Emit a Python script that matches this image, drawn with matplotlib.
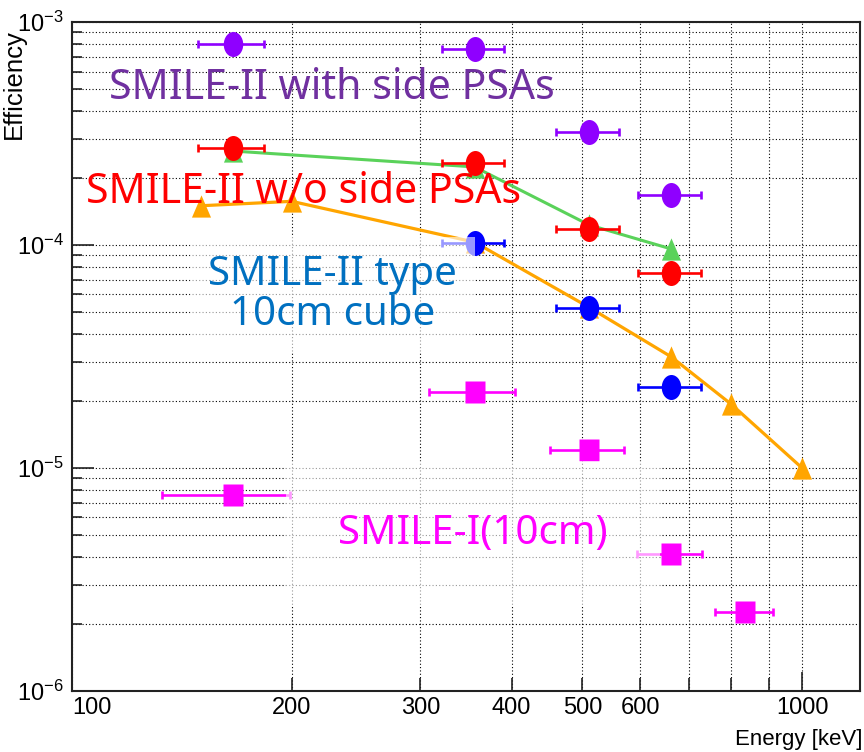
import matplotlib
matplotlib.use("Agg")
import matplotlib.pyplot as plt
from matplotlib.path import Path
from matplotlib.ticker import FixedLocator, FixedFormatter, NullFormatter

plt.rcParams['font.family'] = ['Liberation Sans', 'DejaVu Sans']
plt.rcParams['mathtext.fontset'] = 'custom'
plt.rcParams['mathtext.rm'] = 'Liberation Sans'
plt.rcParams['mathtext.it'] = 'Liberation Sans:italic'

# ---- measured efficiencies (energies in keV) ----
e_meas = [166, 356, 511, 662]
xerr_meas = [17, 35, 51, 66]
eff_with_psa = [8.0e-4, 7.6e-4, 3.2e-4, 1.67e-4]
eff_without_psa = [2.72e-4, 2.33e-4, 1.18e-4, 7.5e-5]

e_cube = [356, 511, 662]
xerr_cube = [35, 51, 66]
eff_cube = [1.02e-4, 5.2e-5, 2.32e-5]

e_smile1 = [166, 356, 511, 662, 835]
xerr_smile1 = [33, 48, 60, 67, 76]
eff_smile1 = [7.6e-6, 2.2e-5, 1.2e-5, 4.1e-6, 2.25e-6]

# ---- simulated efficiencies ----
e_sim_psa = [166, 356, 511, 662]
eff_sim_psa = [2.64e-4, 2.24e-4, 1.23e-4, 9.6e-5]

e_sim_cube = [150, 200, 356, 511, 662, 800, 1000]
eff_sim_cube = [1.5e-4, 1.57e-4, 1.03e-4, 5.25e-5, 3.15e-5, 1.93e-5, 1.0e-5]

# ---- axis ticks ----
x_major = [100, 1000]
x_major_labels = ['100', '1000']
x_minor = [200, 300, 400, 500, 600, 700, 800, 900]
x_minor_labels = ['200', '300', '400', '500', '600', '', '', '']
y_major = [1e-6, 1e-5, 1e-4, 1e-3]
y_major_labels = [r'$10^{-6}$', r'$10^{-5}$', r'$10^{-4}$', r'$10^{-3}$']

# marker shapes (slightly tall)
_c = Path.unit_circle()
ellipse = Path(_c.vertices * [0.78, 1.0], _c.codes)
rect = Path([(-0.83, -1), (0.83, -1), (0.83, 1), (-0.83, 1), (-0.83, -1)],
            [Path.MOVETO, Path.LINETO, Path.LINETO, Path.LINETO, Path.CLOSEPOLY])
tri = Path([(0, 1), (-0.86, -1), (0.86, -1), (0, 1)],
           [Path.MOVETO, Path.LINETO, Path.LINETO, Path.CLOSEPOLY])

fig = plt.figure(figsize=(8.64, 7.52), dpi=100)
ax = fig.add_axes([0.0833, 0.0811, 0.912, 0.8896])
ax.set_xscale('log')
ax.set_yscale('log')
ax.set_xlim(100, 1200)
ax.set_ylim(1e-6, 1e-3)

# simulation lines
ax.plot(e_sim_psa, eff_sim_psa, color='#5ad25a', lw=2.2, marker=tri, ms=16,
        mec='none', zorder=3)
ax.plot(e_sim_cube, eff_sim_cube, color='#ffa500', lw=2.3, marker=tri, ms=16,
        mec='none', zorder=3)

def meas(x, y, xerr, color, marker, ms):
    ax.errorbar(x, y, xerr=xerr, fmt='none', ecolor=color, elinewidth=1.9,
                capsize=2.6, capthick=1.9, zorder=4)
    ax.plot(x, y, ls='none', marker=marker, ms=ms, color=color, mec='none',
            zorder=5)

meas(e_meas, eff_with_psa, xerr_meas, '#8f00ff', ellipse, 18)
meas(e_meas, eff_without_psa, xerr_meas, '#ff0000', ellipse, 18)
meas(e_cube, eff_cube, xerr_cube, '#0000ff', ellipse, 18)
meas(e_smile1, eff_smile1, xerr_smile1, '#ff00ff', rect, 16.5)

# axes styling
ax.xaxis.set_major_locator(FixedLocator(x_major))
ax.xaxis.set_major_formatter(FixedFormatter(x_major_labels))
ax.xaxis.set_minor_locator(FixedLocator(x_minor))
ax.xaxis.set_minor_formatter(FixedFormatter(x_minor_labels))
ax.yaxis.set_major_locator(FixedLocator(y_major))
ax.yaxis.set_major_formatter(FixedFormatter(y_major_labels))
ax.yaxis.set_minor_locator(FixedLocator(
    [m * d for d in (1e-6, 1e-5, 1e-4) for m in range(2, 10)]))
ax.yaxis.set_minor_formatter(NullFormatter())

ax.tick_params(axis='both', which='both', direction='in', color='#222222',
               width=1.2, top=False, right=False, labelsize=17)
ax.tick_params(axis='x', which='major', length=14, pad=4)
ax.tick_params(axis='x', which='minor', length=9.5, pad=4)
ax.tick_params(axis='y', which='major', length=16, pad=6)
ax.tick_params(axis='y', which='minor', length=7.5, pad=6)

# first energy label sits to the right of the axis corner
ax.xaxis.get_major_ticks()[0].label1.set_horizontalalignment('left')

ax.grid(True, which='both', color='black', linestyle=(0, (1, 2)), lw=0.8,
        zorder=0)
ax.set_axisbelow(True)
for s in ax.spines.values():
    s.set_linewidth(1.5)
    s.set_color('#222222')

ax.text(-0.058, 0.99, 'Efficiency', rotation=90, rotation_mode='anchor',
        ha='right', va='bottom', fontsize=18.5, transform=ax.transAxes)
ax.text(1.003, -0.057, 'Energy [keV]', ha='right', va='top', fontsize=16,
        transform=ax.transAxes)

# series annotations
lab_font = ['Noto Sans', 'DejaVu Sans']
ax.text(0.330, 0.901, 'SMILE-II with side PSAs', color='#7030a0', fontsize=29.5,
        family=lab_font, ha='center', va='center', transform=ax.transAxes,
        zorder=8)
ax.text(0.294, 0.746, 'SMILE-II w/o side PSAs', color='#ff0000', fontsize=29.5,
        family=lab_font, ha='center', va='center', transform=ax.transAxes,
        zorder=8)
ax.text(0.331, 0.592, 'SMILE-II type\n10cm cube', color='#0070c0', fontsize=29,
        family=lab_font, ha='center', va='center', linespacing=1.0,
        transform=ax.transAxes, zorder=8,
        bbox=dict(boxstyle='square,pad=0.45', fc='white', ec='none', alpha=0.6))
ax.text(0.509, 0.235, 'SMILE-I(10cm)', color='#ff00ff', fontsize=29,
        family=lab_font, ha='center', va='center', transform=ax.transAxes,
        zorder=8,
        bbox=dict(boxstyle='square,pad=1.3', fc='white', ec='none', alpha=0.6))

fig.savefig('out.png', dpi=100)
